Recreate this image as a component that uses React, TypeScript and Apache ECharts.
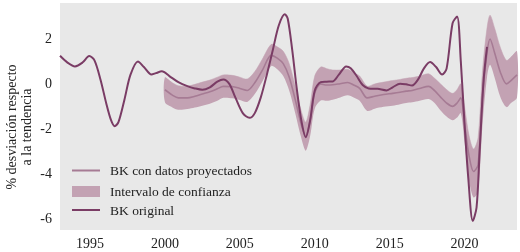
import React, { useEffect, useRef } from "react";
import * as echarts from "echarts";

const origYears = [1993.0, 1993.5, 1994.0, 1994.5, 1994.95, 1995.3, 1995.7, 1996.1, 1996.4, 1996.65, 1996.9, 1997.3, 1997.7, 1998.2, 1998.6, 1999.1, 1999.4, 1999.8, 2000.3, 2000.9, 2001.5, 2002.0, 2002.5, 2003.0, 2003.5, 2003.9, 2004.3, 2004.7, 2005.2, 2005.65, 2006.0, 2006.4, 2006.8, 2007.2, 2007.6, 2008.0, 2008.2, 2008.5, 2008.8, 2009.1, 2009.4, 2009.7, 2010.0, 2010.4, 2010.8, 2011.2, 2011.6, 2012.1, 2012.4, 2012.8, 2013.2, 2013.6, 2014.2, 2014.8, 2015.2, 2015.7, 2016.1, 2016.5, 2016.9, 2017.3, 2017.7, 2018.1, 2018.5, 2018.8, 2019.2, 2019.5, 2019.75, 2020.0, 2020.25, 2020.55, 2020.8, 2021.0, 2021.27, 2021.5];
const origValues = [1.25, 0.95, 0.78, 0.95, 1.24, 1.05, 0.2, -0.9, -1.6, -1.88, -1.7, -0.7, 0.4, 1.0, 0.75, 0.42, 0.48, 0.56, 0.35, 0.08, -0.1, -0.2, -0.26, -0.15, 0.1, 0.2, 0.0, -0.6, -1.3, -1.51, -1.3, -0.6, 0.4, 1.5, 2.6, 3.1, 2.9, 1.5, -0.2, -1.6, -2.37, -1.6, -0.3, 0.08, 0.1, 0.11, 0.4, 0.78, 0.7, 0.35, -0.05, -0.2, -0.22, -0.29, -0.15, 0.01, -0.02, -0.07, 0.2, 0.7, 0.97, 0.75, 0.42, 0.68, 2.7, 3.0, 1.0, -1.8, -4.2, -6.1, -5.5, -3.1, 0.16, 1.65];

const projYears = [2000.0, 2000.5, 2000.9, 2001.5, 2002.0, 2002.5, 2003.0, 2003.5, 2003.9, 2004.5, 2005.0, 2005.5, 2006.0, 2006.5, 2007.1, 2007.5, 2007.9, 2008.3, 2008.7, 2009.1, 2009.4, 2009.7, 2010.0, 2010.4, 2010.8, 2011.2, 2011.7, 2012.2, 2012.6, 2013.0, 2013.5, 2014.0, 2014.6, 2015.2, 2015.7, 2016.1, 2016.5, 2017.0, 2017.6, 2018.0, 2018.4, 2018.8, 2019.2, 2019.5, 2019.75, 2020.0, 2020.3, 2020.6, 2020.9, 2021.2, 2021.5, 2021.7, 2022.0, 2022.4, 2022.8, 2023.1, 2023.5];
const projValues = [-0.26, -0.5, -0.62, -0.62, -0.55, -0.45, -0.35, -0.22, -0.11, -0.12, -0.2, -0.29, 0.05, 0.6, 1.27, 1.15, 0.9, 0.3, -0.7, -1.8, -2.34, -1.6, -0.4, 0.0, -0.05, -0.04, 0.01, 0.06, -0.05, -0.2, -0.62, -0.55, -0.47, -0.42, -0.37, -0.32, -0.29, -0.2, -0.11, -0.3, -0.59, -0.85, -1.0, -0.85, -0.62, -1.8, -3.2, -3.9, -3.6, -0.5, 1.4, 2.0, 1.4, 0.5, 0.0, 0.15, 0.4];
const upperValues = [0.28, 0.05, -0.08, -0.1, -0.02, 0.08, 0.17, 0.3, 0.4, 0.38, 0.3, 0.22, 0.55, 1.1, 1.76, 1.65, 1.45, 0.9, -0.1, -1.2, -1.7, -0.9, 0.35, 0.75, 0.68, 0.62, 0.62, 0.65, 0.5, 0.35, -0.1, 0.0, 0.08, 0.15, 0.2, 0.25, 0.28, 0.35, 0.45, 0.25, 0.0, -0.25, -0.42, -0.25, 0.0, -1.0, -2.3, -2.9, -2.4, 0.6, 2.5, 3.06, 2.5, 1.6, 1.05, 1.2, 1.45];
const lowerValues = [-0.81, -1.05, -1.15, -1.12, -1.05, -0.97, -0.88, -0.75, -0.62, -0.64, -0.72, -0.8, -0.45, 0.1, 0.8, 0.65, 0.35, -0.3, -1.3, -2.4, -2.97, -2.3, -1.1, -0.74, -0.75, -0.7, -0.6, -0.5, -0.6, -0.75, -1.2, -1.1, -1.02, -0.97, -0.9, -0.85, -0.82, -0.75, -0.67, -0.85, -1.18, -1.45, -1.62, -1.5, -1.3, -2.6, -4.3, -5.05, -4.8, -1.8, 0.3, 0.85, 0.3, -0.6, -1.03, -0.85, -0.6];

const legendLabels = ["BK con datos proyectados", "Intervalo de confianza", "BK original"];
const yAxisTitle = "% desviación respecto\na la tendencia";

const DARK = "#7a3c65";
const PROJ = "#a67b94";
const BAND = "#c3a2b3";
const FONT = "'Liberation Serif', 'DejaVu Serif', serif";

export default function App() {
  const ref = useRef<HTMLDivElement>(null);
  useEffect(() => {
    if (!ref.current) return;
    const chart = echarts.init(ref.current, undefined, { renderer: "svg" });
    const orig = origYears.map((x, i) => [x, origValues[i]]);
    const proj = projYears.map((x, i) => [x, projValues[i]]);
    chart.setOption({
      animation: false,
      grid: { left: 60, right: 3, top: 3, bottom: 22, show: true, backgroundColor: "#e8e8e8", borderWidth: 0 },
      xAxis: {
        type: "value", min: 1993, max: 2023.5, interval: 0.5,
        axisLine: { show: false }, axisTick: { show: false }, splitLine: { show: false },
        axisLabel: {
          color: "#222", fontFamily: FONT, fontSize: 14, margin: 6,
          showMinLabel: true, showMaxLabel: true,
          formatter: (v: number) => (Math.abs(v % 5) < 1e-6 ? String(Math.round(v)) : ""),
        },
      },
      yAxis: {
        type: "value", min: -6.5, max: 3.6, interval: 0.5,
        axisLine: { show: false }, axisTick: { show: false }, splitLine: { show: false },
        axisLabel: {
          color: "#222", fontFamily: FONT, fontSize: 14, margin: 8,
          formatter: (v: number) => (Math.abs(v % 2) < 1e-6 ? String(Math.round(v)) : ""),
        },
      },
      series: [
        {
          name: legendLabels[1], type: "custom", data: [[2000, 0]], silent: true,
          renderItem: (_params: any, api: any) => {
            const top = projYears.map((x, i) => api.coord([x, upperValues[i]]));
            const bottom = projYears.map((x, i) => api.coord([x, lowerValues[i]])).reverse();
            return {
              type: "group",
              children: [
                { type: "polyline", shape: { points: top, smooth: 0.3 }, style: { stroke: BAND, lineWidth: 0.5, fill: "none" } },
                { type: "polygon", shape: { points: top.concat(bottom), smooth: 0.3, smoothConstraint: false }, style: { fill: BAND } },
              ],
            };
          },
        },
        { name: legendLabels[0], type: "line", data: proj, symbol: "none", smooth: 0.3, lineStyle: { color: PROJ, width: 1.6 } },
        { name: legendLabels[2], type: "line", data: orig, symbol: "none", smooth: 0.3, lineStyle: { color: DARK, width: 2 } },
      ],
      graphic: [
        { type: "text", x: 19, y: 127, rotation: Math.PI / 2, style: { text: yAxisTitle, fill: "#222", font: `14px ${FONT}`, align: "center", verticalAlign: "middle", lineHeight: 15 } },
        { type: "line", shape: { x1: 72, y1: 170.5, x2: 100, y2: 170.5 }, style: { stroke: PROJ, lineWidth: 2 } },
        { type: "rect", shape: { x: 72, y: 186, width: 28, height: 11 }, style: { fill: BAND } },
        { type: "line", shape: { x1: 72, y1: 210, x2: 100, y2: 210 }, style: { stroke: DARK, lineWidth: 2 } },
        { type: "text", x: 110, y: 170, style: { text: legendLabels[0], fill: "#222", font: `13.5px ${FONT}`, verticalAlign: "middle" } },
        { type: "text", x: 110, y: 191, style: { text: legendLabels[1], fill: "#222", font: `13.5px ${FONT}`, verticalAlign: "middle" } },
        { type: "text", x: 110, y: 210, style: { text: legendLabels[2], fill: "#222", font: `13.5px ${FONT}`, verticalAlign: "middle" } },
      ],
    });
    return () => chart.dispose();
  }, []);
  return <div ref={ref} style={{ position: "fixed", left: 0, top: 0, width: 520, height: 252 }} />;
}
